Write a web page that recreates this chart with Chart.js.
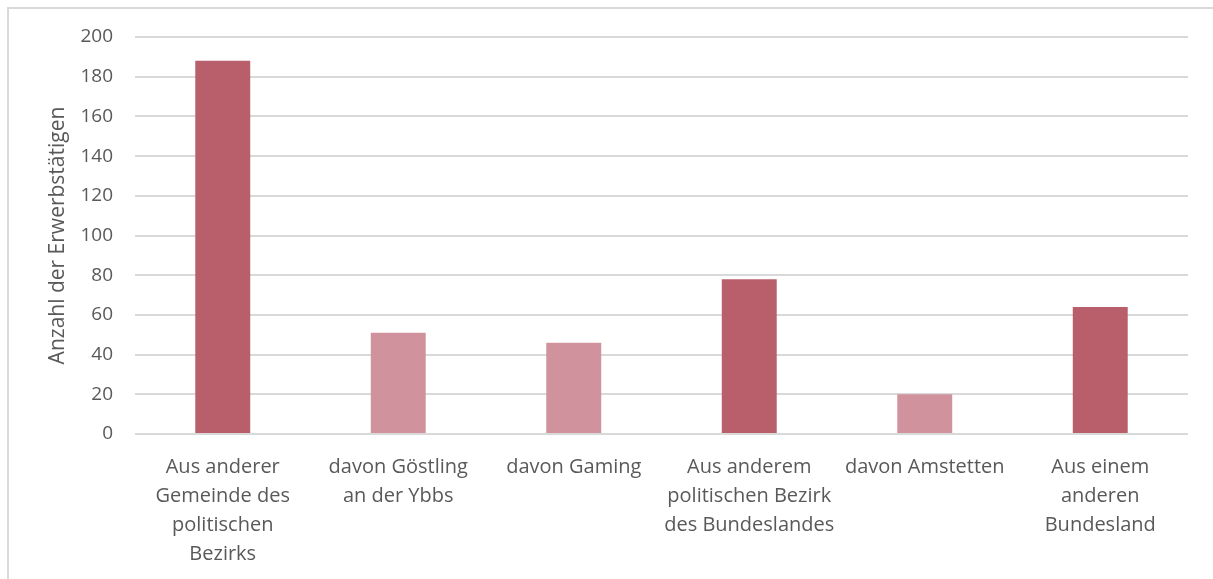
<!DOCTYPE html>
<html>
<head>
<meta charset="utf-8">
<script src="https://cdn.jsdelivr.net/npm/chart.js@4.4.1/dist/chart.umd.min.js"></script>
<style>
  html, body { margin: 0; padding: 0; background: #fff; overflow: hidden; }
  #frame {
    position: absolute; left: 7px; top: 7px;
    width: 1400px; height: 800px;
    border: 2px solid #d9d9d9; box-sizing: border-box;
  }
  #wrap { position: absolute; left: 0; top: 0; width: 1213px; height: 579px; }
</style>
</head>
<body>
<div id="frame"></div>
<div id="wrap"><canvas id="chart" width="1213" height="579"></canvas></div>
<script>
// Pendler nach Herkunft
const categories = [
  ['Aus anderer', 'Gemeinde des', 'politischen', 'Bezirks'],
  ['davon Göstling', 'an der Ybbs'],
  ['davon Gaming'],
  ['Aus anderem', 'politischen Bezirk', 'des Bundeslandes'],
  ['davon Amstetten'],
  ['Aus einem', 'anderen', 'Bundesland']
];
const values = [188, 51, 46, 78, 20, 64];
const barColors = ['#b85f6b', '#d0929c', '#d0929c', '#b85f6b', '#d0929c', '#b85f6b'];
const yTicks = [0, 20, 40, 60, 80, 100, 120, 140, 160, 180, 200];

const textColor = '#595959';
const fontFamily = '"Open Sans", sans-serif';

new Chart(document.getElementById('chart'), {
  type: 'bar',
  data: {
    labels: categories,
    datasets: [{
      data: values,
      backgroundColor: barColors,
      borderWidth: 0,
      barPercentage: 1,
      categoryPercentage: 0.313
    }]
  },
  options: {
    responsive: false,
    animation: false,
    layout: { padding: { left: 45, right: 25, top: 37, bottom: 0 } },
    plugins: { legend: { display: false }, tooltip: { enabled: false } },
    scales: {
      x: {
        grid: { display: false },
        border: { display: false },
        ticks: {
          color: textColor,
          font: { family: fontFamily, size: 20, lineHeight: '29px' },
          maxRotation: 0,
          autoSkip: false,
          padding: 11
        },
        afterFit: (scale) => { scale.height = 145; }
      },
      y: {
        min: 0,
        max: 200,
        afterBuildTicks: (scale) => { scale.ticks = yTicks.map(v => ({ value: v })); },
        grid: { color: '#d9d9d9', lineWidth: 2, drawTicks: false },
        border: { display: false },
        ticks: {
          color: textColor,
          font: { family: fontFamily, size: 19 },
          padding: 22
        },
        title: {
          display: true,
          text: 'Anzahl der Erwerbstätigen',
          color: textColor,
          font: { family: fontFamily, size: 21 },
          padding: 0
        },
        afterFit: (scale) => { scale.width = 90; }
      }
    }
  }
});
</script>
</body>
</html>
